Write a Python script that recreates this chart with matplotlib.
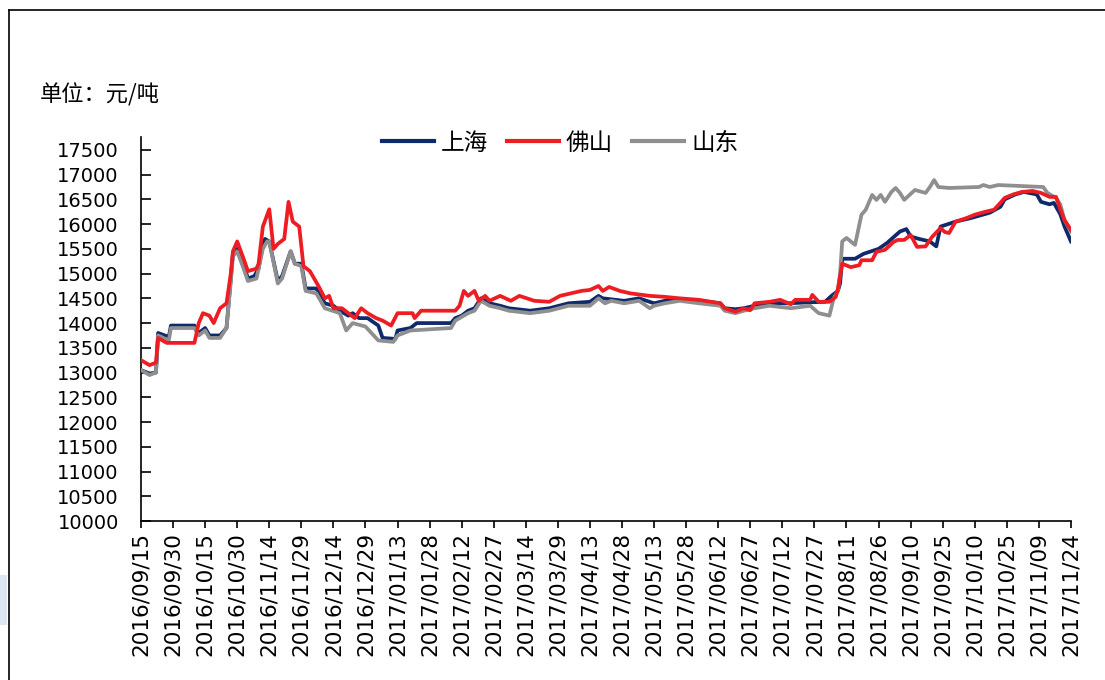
import matplotlib
matplotlib.use("Agg")
import matplotlib.pyplot as plt
import matplotlib.dates as mdates
from matplotlib.lines import Line2D
from matplotlib.patches import Rectangle
import pandas as pd

plt.rcParams['font.family'] = ['DejaVu Sans', 'Noto Sans CJK SC']
plt.rcParams['axes.unicode_minus'] = False

cjk = ['Noto Sans CJK SC', 'DejaVu Sans']

# 上海
sh_dates = [
    "2016-09-15", "2016-09-19", "2016-09-22", "2016-09-23", "2016-09-28", "2016-09-29",
    "2016-10-10", "2016-10-12", "2016-10-15", "2016-10-17", "2016-10-22", "2016-10-25",
    "2016-10-27", "2016-10-28", "2016-10-30", "2016-11-02", "2016-11-04", "2016-11-07",
    "2016-11-09", "2016-11-11", "2016-11-12", "2016-11-14", "2016-11-18", "2016-11-20",
    "2016-11-24", "2016-11-26", "2016-11-29", "2016-12-01", "2016-12-06", "2016-12-08",
    "2016-12-10", "2016-12-14", "2016-12-17", "2016-12-21", "2016-12-23", "2016-12-26",
    "2016-12-30", "2017-01-04", "2017-01-06", "2017-01-12", "2017-01-13", "2017-01-19",
    "2017-01-22", "2017-02-07", "2017-02-09", "2017-02-12", "2017-02-15", "2017-02-18",
    "2017-02-21", "2017-02-25", "2017-03-02", "2017-03-06", "2017-03-16", "2017-03-25",
    "2017-04-03", "2017-04-13", "2017-04-17", "2017-04-19", "2017-04-23", "2017-04-29",
    "2017-05-06", "2017-05-13", "2017-05-18", "2017-05-25", "2017-06-03", "2017-06-13",
    "2017-06-15", "2017-06-20", "2017-06-24", "2017-06-29", "2017-07-06", "2017-07-15",
    "2017-07-25", "2017-08-01", "2017-08-04", "2017-08-07", "2017-08-08", "2017-08-09",
    "2017-08-15", "2017-08-19", "2017-08-26", "2017-08-30", "2017-09-05", "2017-09-08",
    "2017-09-10", "2017-09-14", "2017-09-19", "2017-09-22", "2017-09-24", "2017-10-01",
    "2017-10-08", "2017-10-17", "2017-10-22", "2017-10-24", "2017-10-29", "2017-11-02",
    "2017-11-08", "2017-11-10", "2017-11-14", "2017-11-16", "2017-11-19", "2017-11-21",
    "2017-11-24",
]
sh_values = [
    13050, 12980, 13000, 13800, 13720, 13950,
    13950, 13800, 13900, 13750, 13750, 13900,
    14900, 15400, 15500, 15200, 14900, 14950,
    15100, 15600, 15700, 15650, 14850, 14950,
    15450, 15200, 15200, 14700, 14700, 14550,
    14400, 14350, 14250, 14150, 14200, 14100,
    14100, 13950, 13700, 13680, 13850, 13900,
    14000, 14000, 14100, 14150, 14250, 14300,
    14500, 14400, 14350, 14300, 14250, 14300,
    14400, 14430, 14550, 14500, 14480, 14450,
    14500, 14400, 14450, 14480, 14450, 14400,
    14300, 14280, 14300, 14350, 14400, 14400,
    14420, 14430, 14550, 14650, 14800, 15300,
    15300, 15400, 15500, 15620, 15850, 15900,
    15750, 15700, 15650, 15550, 15950, 16050,
    16120, 16230, 16350, 16500, 16600, 16650,
    16600, 16450, 16400, 16430, 16200, 15950,
    15650,
]

# 佛山
fs_dates = [
    "2016-09-15", "2016-09-19", "2016-09-22", "2016-09-23", "2016-09-27", "2016-10-10",
    "2016-10-12", "2016-10-14", "2016-10-17", "2016-10-19", "2016-10-22", "2016-10-25",
    "2016-10-27", "2016-10-28", "2016-10-30", "2016-11-02", "2016-11-04", "2016-11-08",
    "2016-11-09", "2016-11-11", "2016-11-14", "2016-11-16", "2016-11-18", "2016-11-21",
    "2016-11-23", "2016-11-25", "2016-11-28", "2016-11-30", "2016-12-03", "2016-12-07",
    "2016-12-10", "2016-12-12", "2016-12-14", "2016-12-18", "2016-12-21", "2016-12-24",
    "2016-12-27", "2016-12-30", "2017-01-03", "2017-01-06", "2017-01-10", "2017-01-13",
    "2017-01-20", "2017-01-21", "2017-01-24", "2017-02-09", "2017-02-11", "2017-02-13",
    "2017-02-15", "2017-02-18", "2017-02-20", "2017-02-23", "2017-02-25", "2017-03-02",
    "2017-03-07", "2017-03-11", "2017-03-18", "2017-03-25", "2017-03-30", "2017-04-04",
    "2017-04-09", "2017-04-13", "2017-04-17", "2017-04-19", "2017-04-22", "2017-04-27",
    "2017-05-02", "2017-05-11", "2017-05-18", "2017-05-25", "2017-06-03", "2017-06-13",
    "2017-06-15", "2017-06-20", "2017-06-24", "2017-06-27", "2017-06-29", "2017-07-06",
    "2017-07-11", "2017-07-16", "2017-07-18", "2017-07-25", "2017-07-26", "2017-07-29",
    "2017-08-03", "2017-08-06", "2017-08-07", "2017-08-09", "2017-08-13", "2017-08-17",
    "2017-08-18", "2017-08-23", "2017-08-25", "2017-08-29", "2017-09-02", "2017-09-04",
    "2017-09-07", "2017-09-10", "2017-09-13", "2017-09-17", "2017-09-20", "2017-09-24",
    "2017-09-26", "2017-09-28", "2017-10-01", "2017-10-06", "2017-10-10", "2017-10-15",
    "2017-10-19", "2017-10-22", "2017-10-24", "2017-10-28", "2017-11-01", "2017-11-06",
    "2017-11-10", "2017-11-14", "2017-11-17", "2017-11-19", "2017-11-21", "2017-11-24",
]
fs_values = [
    13250, 13150, 13200, 13700, 13600, 13600,
    14000, 14200, 14150, 14000, 14300, 14400,
    15000, 15450, 15650, 15300, 15050, 15100,
    15200, 15950, 16300, 15500, 15600, 15700,
    16450, 16050, 15950, 15150, 15050, 14750,
    14500, 14550, 14300, 14300, 14200, 14100,
    14300, 14200, 14100, 14050, 13950, 14200,
    14200, 14100, 14250, 14250, 14350, 14650,
    14550, 14650, 14450, 14550, 14450, 14550,
    14450, 14550, 14450, 14430, 14550, 14600,
    14650, 14670, 14750, 14650, 14730, 14650,
    14600, 14550, 14530, 14500, 14470, 14400,
    14300, 14230, 14300, 14260, 14400, 14430,
    14470, 14380, 14470, 14470, 14570, 14430,
    14430, 14530, 14700, 15200, 15130, 15170,
    15270, 15270, 15440, 15480, 15640, 15680,
    15680, 15780, 15540, 15550, 15740, 15920,
    15840, 15820, 16050, 16120, 16190, 16250,
    16290, 16430, 16530, 16600, 16650, 16670,
    16630, 16550, 16550, 16300, 16080, 15880,
]

# 山东
sd_dates = [
    "2016-09-15", "2016-09-19", "2016-09-22", "2016-09-23", "2016-09-28", "2016-09-29",
    "2016-10-10", "2016-10-12", "2016-10-15", "2016-10-17", "2016-10-22", "2016-10-25",
    "2016-10-27", "2016-10-28", "2016-10-30", "2016-11-02", "2016-11-04", "2016-11-08",
    "2016-11-11", "2016-11-13", "2016-11-14", "2016-11-18", "2016-11-20", "2016-11-24",
    "2016-11-26", "2016-11-29", "2016-12-01", "2016-12-06", "2016-12-10", "2016-12-17",
    "2016-12-20", "2016-12-23", "2016-12-29", "2017-01-04", "2017-01-11", "2017-01-13",
    "2017-01-19", "2017-02-07", "2017-02-09", "2017-02-15", "2017-02-18", "2017-02-21",
    "2017-02-25", "2017-03-02", "2017-03-06", "2017-03-16", "2017-03-25", "2017-04-03",
    "2017-04-13", "2017-04-17", "2017-04-20", "2017-04-23", "2017-04-29", "2017-05-06",
    "2017-05-11", "2017-05-13", "2017-05-18", "2017-05-25", "2017-06-03", "2017-06-13",
    "2017-06-15", "2017-06-20", "2017-06-24", "2017-06-29", "2017-07-06", "2017-07-16",
    "2017-07-25", "2017-07-29", "2017-08-03", "2017-08-05", "2017-08-07", "2017-08-08",
    "2017-08-09", "2017-08-11", "2017-08-15", "2017-08-18", "2017-08-20", "2017-08-23",
    "2017-08-25", "2017-08-27", "2017-08-29", "2017-09-01", "2017-09-03", "2017-09-05",
    "2017-09-07", "2017-09-12", "2017-09-17", "2017-09-19", "2017-09-21", "2017-09-23",
    "2017-09-28", "2017-10-12", "2017-10-14", "2017-10-17", "2017-10-21", "2017-11-11",
    "2017-11-13", "2017-11-17", "2017-11-19", "2017-11-21", "2017-11-24",
]
sd_values = [
    13050, 12950, 13000, 13750, 13650, 13900,
    13900, 13750, 13850, 13700, 13700, 13900,
    14850, 15350, 15450, 15100, 14850, 14900,
    15500, 15650, 15650, 14800, 14900, 15450,
    15200, 15150, 14650, 14600, 14300, 14200,
    13850, 14000, 13930, 13650, 13620, 13750,
    13850, 13900, 14050, 14200, 14250, 14450,
    14350, 14300, 14250, 14200, 14250, 14350,
    14350, 14500, 14400, 14450, 14400, 14450,
    14300, 14350, 14400, 14450, 14400, 14350,
    14250, 14200, 14250, 14300, 14350, 14300,
    14350, 14200, 14150, 14500, 14650, 15000,
    15650, 15720, 15580, 16190, 16290, 16590,
    16490, 16590, 16450, 16650, 16730, 16630,
    16490, 16690, 16630, 16750, 16890, 16750,
    16730, 16750, 16790, 16750, 16790, 16750,
    16630, 16530, 16400, 16080, 15850,
]

series_names = ["上海", "佛山", "山东"]
series_colors = ["#0e2a6b", "#ee1d23", "#8f8f8f"]

y_ticks = list(range(10000, 18000, 500))
x_start, x_end = "2016-09-15", "2017-11-24"

fig = plt.figure(figsize=(11.05, 6.8), dpi=100)
ax = fig.add_axes([0.1276, 0.2338, 0.8416, 0.5647])

# 绘制顺序: 上海, 山东, 佛山 (红线在最上层)
ax.plot(pd.to_datetime(sh_dates), sh_values, color=series_colors[0], lw=2.7,
        label=series_names[0], zorder=3)
ax.plot(pd.to_datetime(fs_dates), fs_values, color=series_colors[1], lw=2.7,
        label=series_names[1], zorder=5)
ax.plot(pd.to_datetime(sd_dates), sd_values, color=series_colors[2], lw=2.7,
        label=series_names[2], zorder=4)

ax.set_xlim(pd.Timestamp(x_start), pd.Timestamp(x_end))
ax.set_ylim(10000, 17760)

xt = pd.date_range(x_start, x_end, freq="15D")
ax.set_xticks(xt)
ax.xaxis.set_major_formatter(mdates.DateFormatter("%Y/%m/%d"))
ax.set_yticks(y_ticks)

for lab in ax.get_xticklabels():
    lab.set_rotation(90)
    lab.set_fontsize(15.5)
for lab in ax.get_yticklabels():
    lab.set_fontsize(14)

ax.tick_params(axis='y', direction='in', length=7, width=1.2, pad=16)
ax.tick_params(axis='x', direction='out', length=5, width=1.2, pad=3)

for s in ['top', 'right']:
    ax.spines[s].set_visible(False)
for s in ['left', 'bottom']:
    ax.spines[s].set_linewidth(1.2)

# 单位
fig.text(40 / 1105, 1 - 95 / 680, "单位：元/吨", fontsize=16, family=cjk,
         ha='left', va='center')

# 图例
handles = [Line2D([0], [0], color=c, lw=3) for c in
           [series_colors[0], series_colors[1], series_colors[2]]]
fig.legend(handles, series_names, loc='center', ncol=3, frameon=False,
           bbox_to_anchor=(560 / 1105, 1 - 143 / 680),
           prop={'family': cjk, 'size': 17}, handlelength=2.2,
           handletextpad=0.3, columnspacing=0.8)

# 外框
fig.add_artist(Line2D([9 / 1105, 1.0], [1 - 10 / 680, 1 - 10 / 680],
                      color='black', lw=1.2, transform=fig.transFigure))
fig.add_artist(Line2D([9 / 1105, 9 / 1105], [0.0, 1 - 10 / 680],
                      color='black', lw=1.2, transform=fig.transFigure))
fig.add_artist(Rectangle((0, 1 - 625 / 680), 7 / 1105, 50 / 680,
                         color='#dde7f3', transform=fig.transFigure, lw=0))

fig.savefig("out.png", dpi=100)
